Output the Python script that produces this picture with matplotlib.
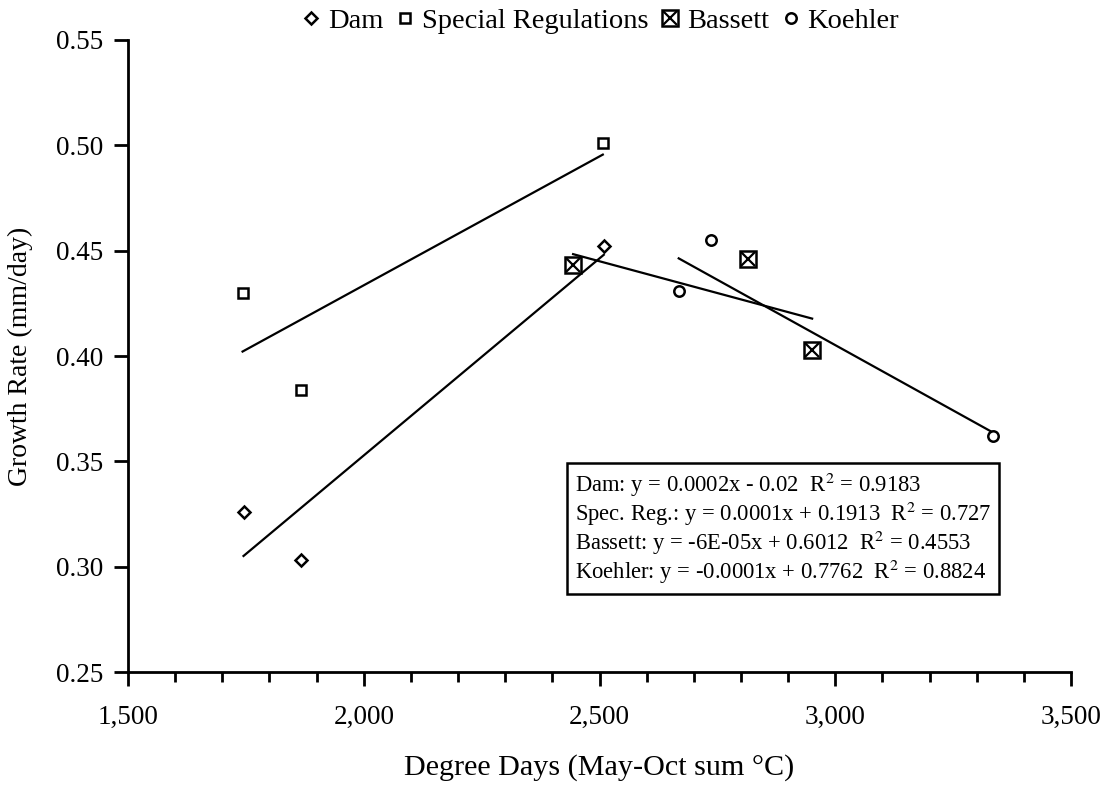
import numpy as np
import matplotlib
matplotlib.use("Agg")
import matplotlib.pyplot as plt
from matplotlib.ticker import MultipleLocator, FuncFormatter
from matplotlib.legend_handler import HandlerTuple

plt.rcParams['font.family'] = ['Liberation Serif', 'DejaVu Serif']
plt.rcParams['mathtext.fontset'] = 'stix'

# Degree days (x) and growth rate (y) per site group
dam_x = [1745, 1867, 2509]
dam_y = [0.326, 0.303, 0.452]

spec_x = [1743, 1867, 2507]
spec_y = [0.430, 0.384, 0.501]

bassett_x = [2444, 2816, 2951]
bassett_y = [0.443, 0.446, 0.403]

koehler_x = [2668, 2736, 3334]
koehler_y = [0.431, 0.455, 0.362]

fit_labels = [
    "Dam: y = 0.0002x - 0.02  R$^2$ = 0.9183",
    "Spec. Reg.: y = 0.0001x + 0.1913  R$^2$ = 0.727",
    "Bassett: y = -6E-05x + 0.6012  R$^2$ = 0.4553",
    "Koehler: y = -0.0001x + 0.7762  R$^2$ = 0.8824",
]

W, H = 1106, 793
fig = plt.figure(figsize=(W / 100, H / 100), dpi=100)
ax = fig.add_axes([128 / W, 1 - 672 / H, (1071 - 128) / W, (672 - 40) / H])

mk = dict(linestyle='none', markerfacecolor='white', markeredgecolor='black',
          markeredgewidth=1.8, zorder=3)

h_dam, = ax.plot(dam_x, dam_y, marker='D', markersize=6.5, **mk)
h_spec, = ax.plot(spec_x, spec_y, marker='s', markersize=7.5, **mk)
h_bs, = ax.plot(bassett_x, bassett_y, marker='s', markersize=12, **mk)
h_bx, = ax.plot(bassett_x, bassett_y, marker='x', markersize=10, linestyle='none',
                color='black', markeredgewidth=1.6, zorder=4)
h_koe, = ax.plot(koehler_x, koehler_y, marker='o', markersize=7.5, **mk)

# Linear least-squares trendlines spanning each group's range
for xs, ys in [(dam_x, dam_y), (spec_x, spec_y), (bassett_x, bassett_y), (koehler_x, koehler_y)]:
    xs = np.asarray(xs, float)
    ys = np.asarray(ys, float)
    m, b = np.polyfit(xs, ys, 1)
    xl = np.array([xs.min(), xs.max()])
    ax.plot(xl, m * xl + b, color='black', linewidth=1.6, zorder=2)

ax.set_xlim(1500, 3500)
ax.set_ylim(0.25, 0.55)
ax.xaxis.set_major_locator(MultipleLocator(500))
ax.xaxis.set_minor_locator(MultipleLocator(100))
ax.yaxis.set_major_locator(MultipleLocator(0.05))
ax.xaxis.set_major_formatter(FuncFormatter(lambda v, p: f"{int(v):,}"))
ax.yaxis.set_major_formatter(FuncFormatter(lambda v, p: f"{v:.2f}"))

for side in ['top', 'right']:
    ax.spines[side].set_visible(False)
for side in ['left', 'bottom']:
    ax.spines[side].set_linewidth(2)

ax.tick_params(axis='both', which='major', direction='out', length=10, width=2,
               labelsize=19.5, pad=8)
ax.tick_params(axis='x', which='minor', direction='out', length=7, width=2)
ax.tick_params(axis='x', which='major', pad=14)

ax.set_xlabel("Degree Days (May-Oct sum °C)", fontsize=21.7, labelpad=17)
ax.set_ylabel("Growth Rate (mm/day)", fontsize=20, labelpad=16)

leg = fig.legend([h_dam, h_spec, (h_bs, h_bx), h_koe],
                 ["Dam", "Special Regulations", "Bassett", "Koehler"],
                 handler_map={tuple: HandlerTuple(ndivide=1, pad=0)},
                 loc='center', bbox_to_anchor=(601 / W, 1 - 21 / H),
                 ncol=4, frameon=False, fontsize=20.5, handlelength=0.6,
                 handletextpad=0.3, columnspacing=0.45, borderpad=0)

fig.text(575 / W, 1 - 586 / H, "\n".join(fit_labels),
         fontsize=16.3, linespacing=1.03, va='bottom', ha='left',
         bbox=dict(boxstyle='square,pad=0.35', facecolor='white',
                   edgecolor='black', linewidth=1.8))

fig.savefig("out.png", dpi=100)
